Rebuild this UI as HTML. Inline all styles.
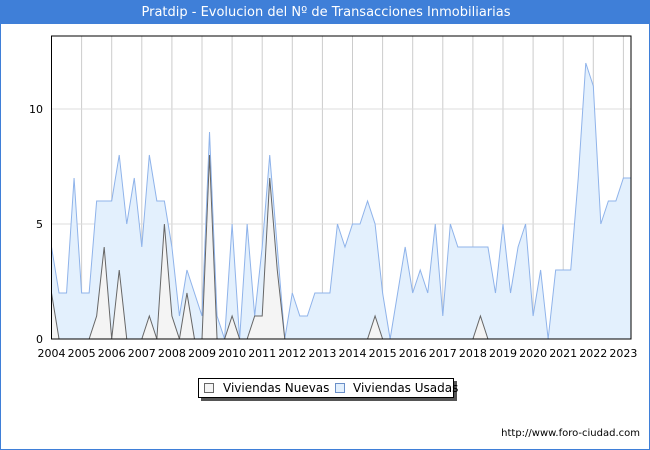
<!DOCTYPE html>
<html><head><meta charset="utf-8"><style>
body{margin:0;background:#fff;font-family:"DejaVu Sans","Liberation Sans",sans-serif;}
#wrap{position:relative;width:650px;height:450px;border:1px solid #3f7fd8;box-sizing:border-box;overflow:hidden}
#title{position:absolute;left:0;top:0;width:650px;height:23px;background:#3f7fd8;color:#fff;font-size:13px;text-align:center;line-height:23px}
#url{position:absolute;right:9px;top:427px;font-size:10px;color:#000}
</style></head><body>
<div id="wrap">
<div id="title">Pratdip - Evolucion del Nº de Transacciones Inmobiliarias</div>
<svg id="chart" width="650" height="450" style="position:absolute;left:0;top:0"></svg>
<div id="url">http://www.foro-ciudad.com</div>
</div>
<script>
const years=[2004,2005,2006,2007,2008,2009,2010,2011,2012,2013,2014,2015,2016,2017,2018,2019,2020,2021,2022,2023];
const yTicks=[0,5,10];
const usadas=[4,2,2,7,2,2,6,6,6,8,5,7,4,8,6,6,4,1,3,2,1,9,1,0,5,0,5,1,4,8,4,0,2,1,1,2,2,2,5,4,5,5,6,5,2,0,2,4,2,3,2,5,1,5,4,4,4,4,4,2,5,2,4,5,1,3,0,3,3,3,7,12,11,5,6,6,7,7];
const nuevas=[2,0,0,0,0,0,1,4,0,3,0,0,0,1,0,5,1,0,2,0,0,8,0,0,1,0,0,1,1,7,3,0,0,0,0,0,0,0,0,0,0,0,0,1,0,0,0,0,0,0,0,0,0,0,0,0,0,1,0,0,0,0,0,0,0,0,0,0,0,0,0,0,0,0,0,0,0,0];
const NS='http://www.w3.org/2000/svg';
const svg=document.getElementById('chart');
const L=50.5,R=630,T=35,B=338;
const x=i=>L+i*(30.1/4);
const xYear=y=>L+(y-2004)*30.1;
const y=v=>B-v*23;
function mk(tag,attrs){const e=document.createElementNS(NS,tag);for(const k in attrs)e.setAttribute(k,attrs[k]);svg.appendChild(e);return e;}
const bg=mk('rect',{x:L,y:T,width:R-L,height:B-T,fill:'#fff'});


years.forEach(yr=>{
 const g=mk('line',{x1:xYear(yr),x2:xYear(yr),y1:T,y2:B,stroke:'#ccc','stroke-width':1});
 
 
 const t=mk('text',{x:xYear(yr),y:356,'text-anchor':'middle','font-size':11,fill:'#000'});
 t.textContent=yr;
 
 
});
yTicks.forEach(v=>{
 const g=mk('line',{x1:L,x2:R,y1:y(v),y2:y(v),stroke:'#ddd','stroke-width':1});
 
 
 const t=mk('text',{x:42,y:y(v)+4,'text-anchor':'end','font-size':11,fill:'#000'});
 t.textContent=v;
 
 
});
function series(data,fill,stroke,name){
 let d='M'+x(0)+','+B;
 data.forEach((v,i)=>d+=' L'+x(i)+','+y(v));
 d+=' L'+x(data.length-1)+','+B+' Z';
 const a=mk('path',{d:d,fill:fill,stroke:'none'});
 
 
 const ln=mk('polyline',{points:data.map((v,i)=>x(i)+','+y(v)).join(' '),fill:'none',stroke:stroke,'stroke-width':1});
 
 
}
series(usadas,'#e3f0fd','#8fb3ea','usadas');
series(nuevas,'#f4f4f4','#666','nuevas');
const fr=mk('rect',{x:L,y:T,width:R-L,height:B-T,fill:'none',stroke:'#000','stroke-width':1});


// legend
const sh=mk('rect',{x:200,y:380,width:256,height:20,fill:'#555'});


const lb=mk('rect',{x:197.5,y:377.5,width:255,height:19,fill:'#fff',stroke:'#000'});


[[203,'#f4f4f4','#666','Viviendas Nuevas',222],[334,'#e3f0fd','#6a8fc8','Viviendas Usadas',352]].forEach(([sx,f,s,label,tx])=>{
 const b=mk('rect',{x:sx+0.5,y:382.5,width:9,height:9,fill:f,stroke:s});
 
 
 const t=mk('text',{x:tx,y:391,'font-size':12,fill:'#000'});
 t.textContent=label;
 
 
});
</script>
</body></html>
